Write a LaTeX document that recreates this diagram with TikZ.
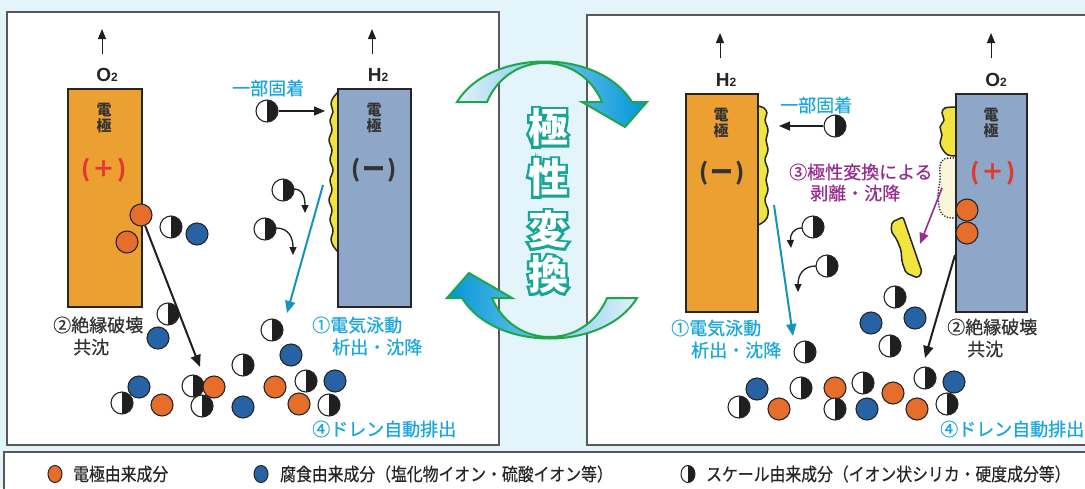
\documentclass[tikz,border=0pt]{standalone}
\usepackage{fontspec}
\usetikzlibrary{arrows.meta,shapes.geometric}
\newfontfamily\jpfont{Noto Sans CJK JP}
\newfontfamily\jpmed{Noto Sans CJK JP}[FakeBold=0.6]
\newfontfamily\jpleg{Noto Sans CJK JP}[FakeStretch=0.88, FakeBold=0.4]
\newfontfamily\jpedge{Noto Sans CJK JP}[BoldFeatures={FakeBold=12}]
\newfontfamily\latfont{Liberation Sans}

\definecolor{bgc}{HTML}{E3F4FA}
\definecolor{elecO}{HTML}{EBA031}
\definecolor{elecB}{HTML}{8EA7C9}
\definecolor{ballOc}{HTML}{E66E2A}
\definecolor{ballBc}{HTML}{2762A5}
\definecolor{depo}{HTML}{F1E43E}
\definecolor{cyanT}{HTML}{1AA7DF}
\definecolor{cyanA}{HTML}{1494BA}
\definecolor{purp}{HTML}{982C8E}
\definecolor{redT}{HTML}{E03A2F}
\definecolor{darkT}{HTML}{333333}
\definecolor{tealT}{HTML}{16A596}
\definecolor{arrG}{HTML}{1FA64A}
\definecolor{arrB}{HTML}{0096D8}
\definecolor{arrL}{HTML}{E4F2FB}
\definecolor{peel}{HTML}{FAF6DA}

\tikzset{
  panel/.style={draw=black!65, line width=1.3pt, fill=white},
  electrodeO/.style={draw=black!85, line width=2pt, fill=elecO},
  electrodeB/.style={draw=black!85, line width=2pt, fill=elecB},
  deposit/.style={draw=black!85, line width=1.5pt, fill=depo, line join=round},
  peeled/.style={draw=black!85, line width=1.8pt, fill=peel, line cap=round,
    dash pattern=on 0pt off 2.8pt},
  ballO/.style={circle, draw=black!85, line width=1.1pt, fill=ballOc, minimum size=22pt, inner sep=0pt},
  ballB/.style={circle, draw=black!85, line width=1.1pt, fill=ballBc, minimum size=22pt, inner sep=0pt},
  ballH/.style={circle, draw=black!85, line width=1.1pt, fill=white, minimum size=22pt, inner sep=0pt,
    path picture={\fill[black!88] (path picture bounding box.north) rectangle (path picture bounding box.south east);}},
  legO/.style={ellipse, draw=black!85, line width=1pt, fill=ballOc, minimum width=14pt, minimum height=17pt, inner sep=0pt},
  legB/.style={ellipse, draw=black!85, line width=1pt, fill=ballBc, minimum width=14pt, minimum height=17pt, inner sep=0pt},
  legH/.style={ellipse, draw=black!85, line width=1pt, fill=white, minimum width=14pt, minimum height=17pt, inner sep=0pt,
    path picture={\fill[black!88] (path picture bounding box.north) rectangle (path picture bounding box.south east);}},
  blkarrow/.style={draw=black!88, line width=2pt, -{Triangle[length=12pt,width=10pt]}},
  cyanarrow/.style={draw=cyanA, line width=2pt, -{Triangle[length=12pt,width=10pt]}},
  purparrow/.style={draw=purp, line width=1.6pt, -{Triangle[length=11pt,width=9pt]}},
  curlarrow/.style={draw=black!88, line width=1.3pt, -{Triangle[length=8pt,width=7pt]}},
  fixarrow/.style={draw=black!88, line width=1.3pt, -{Triangle[length=11pt,width=9pt]}},
  uparrow/.style={draw=black!88, line width=1pt, -{Triangle[length=10pt,width=8pt]}},
  gas/.style={font=\latfont\bfseries\fontsize{19}{20}\selectfont, text=black!85, inner sep=0pt},
  etxt/.style={font=\jpfont\bfseries\fontsize{15}{16}\selectfont, text=darkT, align=center, inner sep=0pt},
  pol/.style={font=\jpfont\bfseries\fontsize{23}{24}\selectfont, inner sep=0pt},
  lbl/.style={font=\jpmed\fontsize{18}{20}\selectfont, inner sep=0pt, anchor=west},
  leg/.style={font=\jpleg\fontsize{18}{20}\selectfont, text=black!85, inner sep=0pt, anchor=west},
  bigchar/.style={font=\jpfont\bfseries\fontsize{40}{40}\selectfont, inner sep=0pt},
  bigedge/.style={font=\jpedge\bfseries\fontsize{40}{40}\selectfont, inner sep=0pt},
  bigarrow/.style={draw=arrG, line width=2pt, line join=miter},
}

\begin{document}
\begin{tikzpicture}[x=1pt,y=-1pt]
\useasboundingbox (0,0) rectangle (1085,488);
\fill[bgc] (0,0) rectangle (1085,488);

% frames
\draw[panel] (7,12) rectangle (499,445);
\draw[panel] (587,15) rectangle (1095,445);
\draw[panel] (4,452) rectangle (1095,500);

% ---------------- left cell ----------------
\node[electrodeO, minimum width=74pt, minimum height=218pt] (anodeL) at (105,198) {};
\node[electrodeB, minimum width=73pt, minimum height=218pt] (cathodeL) at (374.5,198) {};
\filldraw[deposit] plot[smooth, tension=0.6] coordinates {(338,92) (333,98) (331,104) (333,112) (330,120) (332,130)
  (329,140) (332,150) (330,160) (333,170) (330,180) (332,190) (329,200) (332,210) (330,220) (333,230) (331,240) (334,247) (338,252)} -- cycle;
\draw[electrodeB, fill=none] (338,89) -- (338,307);

\node[etxt] (anodeLt) at (104,118) {電\\極};
\node[etxt] (cathodeLt) at (374,118) {電\\極};
\node[pol, text=redT] (anodeLp) at (104,170) {(\kern2pt＋\kern2pt)};
\node[pol, text=darkT] (cathodeLp) at (374,170) {(\kern2pt ー\kern2pt)};

\node[gas] (gasL1) at (107,75) {O{\fontsize{12}{12}\selectfont 2}};
\node[gas] (gasL2) at (378,75) {H{\fontsize{12}{12}\selectfont 2}};
\coordinate (upL1a) at (102,54); \coordinate (upL1b) at (102,29);
\coordinate (upL2a) at (372,54); \coordinate (upL2b) at (372,29);
\draw[uparrow] (upL1a) -- (upL1b);
\draw[uparrow] (upL2a) -- (upL2b);

% particles left
\node[ballO] (oL1) at (141,215) {};
\node[ballO] (oL2) at (127,242) {};
\node[ballH] (hL1) at (171,227) {};
\node[ballB] (bL1) at (197,234) {};
\node[ballH] (hL2) at (168,314) {};
\node[ballB] (bL2) at (158,338) {};
\node[ballH] (hL3) at (272,330) {};
\node[ballB] (bL3) at (291,355) {};
\node[ballH] (hL4) at (243,365) {};
\node[ballB] (bL4) at (139,387) {};
\node[ballH] (hL5) at (122,403) {};
\node[ballO] (oL3) at (162,405) {};
\node[ballH] (hL6) at (193,386) {};
\node[ballO] (oL4) at (214,387) {};
\node[ballH] (hL7) at (202,406) {};
\node[ballB] (bL5) at (243,407) {};
\node[ballO] (oL5) at (275,387) {};
\node[ballH] (hL8) at (306,381) {};
\node[ballB] (bL6) at (335,381) {};
\node[ballO] (oL6) at (299,404) {};
\node[ballH] (hL9) at (329,405) {};

\node[ballH] (fixL) at (267,111) {};
\coordinate (fixLend) at (325,111);
\draw[fixarrow] (fixL) -- (fixLend);
\node[ballH] (cL1) at (283,190) {};
\node[ballH] (cL2) at (265,229) {};
\coordinate (cL1s) at (294,189); \coordinate (cL1e) at (305,213);
\coordinate (cL2s) at (276,228); \coordinate (cL2e) at (293,255);
\draw[curlarrow] (cL1s) .. controls (303,189) and (305,198) .. (cL1e);
\draw[curlarrow] (cL2s) .. controls (289,228) and (293,238) .. (cL2e);

\coordinate (dropL) at (200,367);
\draw[blkarrow] (oL1) -- (dropL);
\coordinate (epL1) at (323,185); \coordinate (epL2) at (287,313);
\draw[cyanarrow] (epL1) -- (epL2);

\node[lbl, text=cyanT] (fixLt) at (232,88) {一部固着};
\node[lbl, text=cyanT] (epLt1) at (312,325) {①電気泳動};
\node[lbl, text=cyanT] (epLt2) at (332,347) {析出・沈降};
\node[lbl, text=darkT] (brLt1) at (53,325) {②絶縁破壊};
\node[lbl, text=darkT] (brLt2) at (73,347) {共沈};
\node[lbl, text=cyanT] (drLt) at (312,429) {④ドレン自動排出};

% ---------------- right cell ----------------
\node[electrodeO, minimum width=72pt, minimum height=218pt] (cathodeR) at (722,203) {};
\node[electrodeB, minimum width=71pt, minimum height=218pt] (anodeR) at (991.5,203) {};
\filldraw[deposit] plot[smooth, tension=0.6] coordinates {(758,106) (764,108) (767,113) (765,120) (768,130) (766,140)
  (768,150) (765,160) (768,170) (766,180) (768,190) (765,200) (768,210) (767,218) (762,223) (758,225)} -- cycle;
\filldraw[deposit] plot[smooth, tension=0.6] coordinates {(956,107) (945,108) (942,113) (944,120) (940,127) (942,135)
  (940,143) (943,150) (948,155) (956,156)} -- cycle;
\filldraw[peeled] plot[smooth, tension=0.6] coordinates {(956,158) (944,159) (940,166) (940,180) (938,195) (940,210) (946,217) (956,218)};
\draw[electrodeO, fill=none] (758,94) -- (758,312);
\draw[electrodeB, fill=none] (956,94) -- (956,312);

\node[etxt] (cathodeRt) at (721,123) {電\\極};
\node[etxt] (anodeRt) at (991,123) {電\\極};
\node[pol, text=darkT] (cathodeRp) at (722,173) {(\kern2pt ー\kern2pt)};
\node[pol, text=redT] (anodeRp) at (993,173) {(\kern2pt＋\kern2pt)};

\node[gas] (gasR1) at (726,80) {H{\fontsize{12}{12}\selectfont 2}};
\node[gas] (gasR2) at (996,80) {O{\fontsize{12}{12}\selectfont 2}};
\coordinate (upR1a) at (720,58); \coordinate (upR1b) at (720,33);
\coordinate (upR2a) at (991,58); \coordinate (upR2b) at (991,33);
\draw[uparrow] (upR1a) -- (upR1b);
\draw[uparrow] (upR2a) -- (upR2b);

% flake
\filldraw[deposit, rounded corners=2pt] (892,222) -- (903,217) -- (922,272) -- (918,278) -- (906,273)
  -- (902,262) -- (901,250) -- (897,240) -- (891,231) -- cycle;

% particles right
\node[ballO] (oR1) at (967,210) {};
\node[ballO] (oR2) at (967,233) {};
\node[ballH] (hR1) at (895,297) {};
\node[ballB] (bR1) at (871,323) {};
\node[ballB] (bR2) at (915,318) {};
\node[ballH] (hR2) at (890,346) {};
\node[ballH] (hR3) at (805,352) {};
\node[ballH] (hR4) at (925,378) {};
\node[ballB] (bR3) at (954,382) {};
\node[ballH] (hR5) at (947,404) {};
\node[ballO] (oR3) at (917,409) {};
\node[ballO] (oR4) at (893,393) {};
\node[ballH] (hR6) at (863,383) {};
\node[ballB] (bR4) at (867,409) {};
\node[ballO] (oR5) at (835,388) {};
\node[ballH] (hR7) at (835,409) {};
\node[ballH] (hR8) at (801,388) {};
\node[ballO] (oR6) at (779,409) {};
\node[ballB] (bR5) at (757,389) {};
\node[ballH] (hR9) at (739,407) {};

\node[ballH] (fixR) at (835,126) {};
\coordinate (fixRend) at (779,126);
\draw[fixarrow] (fixR) -- (fixRend);
\node[ballH] (cR1) at (813,227) {};
\node[ballH] (cR2) at (827,266) {};
\coordinate (cR1s) at (802,228); \coordinate (cR1e) at (791,248);
\coordinate (cR2s) at (816,266); \coordinate (cR2e) at (798,292);
\draw[curlarrow] (cR1s) .. controls (793,228) and (790,235) .. (cR1e);
\draw[curlarrow] (cR2s) .. controls (804,266) and (798,274) .. (cR2e);

\coordinate (brR1) at (955,255); \coordinate (brR2) at (925,358);
\draw[blkarrow] (brR1) -- (brR2);
\coordinate (epR1) at (774,205); \coordinate (epR2) at (793,336);
\draw[cyanarrow] (epR1) -- (epR2);
\coordinate (pfR1) at (942,188); \coordinate (pfR2) at (920,244);
\draw[purparrow] (pfR1) -- (pfR2);

\node[lbl, text=cyanT] (fixRt) at (780,105) {一部固着};
\node[lbl, text=purp] (pcRt1) at (789,172) {③極性変換による};
\node[lbl, text=purp] (pcRt2) at (810,193) {剥離・沈降};
\node[lbl, text=cyanT] (epRt1) at (671,328) {①電気泳動};
\node[lbl, text=cyanT] (epRt2) at (691,350) {析出・沈降};
\node[lbl, text=darkT] (brRt1) at (947,327) {②絶縁破壊};
\node[lbl, text=darkT] (brRt2) at (967,349) {共沈};
\node[lbl, text=cyanT] (drRt) at (940,429) {④ドレン自動排出};

% ---------------- polarity reversal ----------------
\path[bigarrow, left color=arrL, right color=arrB]
  (457,102) .. controls (490,48) and (599,48) .. (632,102) -- (647,102) -- (625,127) -- (582,102) -- (602,102)
  .. controls (580,50) and (509,50) .. (487,102) -- cycle;
\path[bigarrow, left color=arrB, right color=arrL]
  (637,298) .. controls (604,352) and (495,352) .. (462,298) -- (447,298) -- (469,273) -- (512,298) -- (492,298)
  .. controls (514,350) and (585,350) .. (607,298) -- cycle;

% outlined vertical title: a heavily emboldened teal layer under the white letters
\node[bigedge, text=tealT, align=center] (titleEdge) at (548,201) {極\\[10pt]性\\[12pt]変\\[5pt]換};
\node[bigchar, text=white, align=center] (title) at (548,201) {極\\[10pt]性\\[12pt]変\\[5pt]換};

% ---------------- legend ----------------
\node[legO] (kO) at (55,474) {};
\node[leg] (kOt) at (73,474) {電極由来成分};
\node[legB] (kB) at (261,474) {};
\node[leg] (kBt) at (280,474) {腐食由来成分（塩化物イオン・硫酸イオン等）};
\node[legH] (kH) at (688,474) {};
\node[leg] (kHt) at (706,474) {スケール由来成分（イオン状シリカ・硬度成分等）};
\end{tikzpicture}
\end{document}
